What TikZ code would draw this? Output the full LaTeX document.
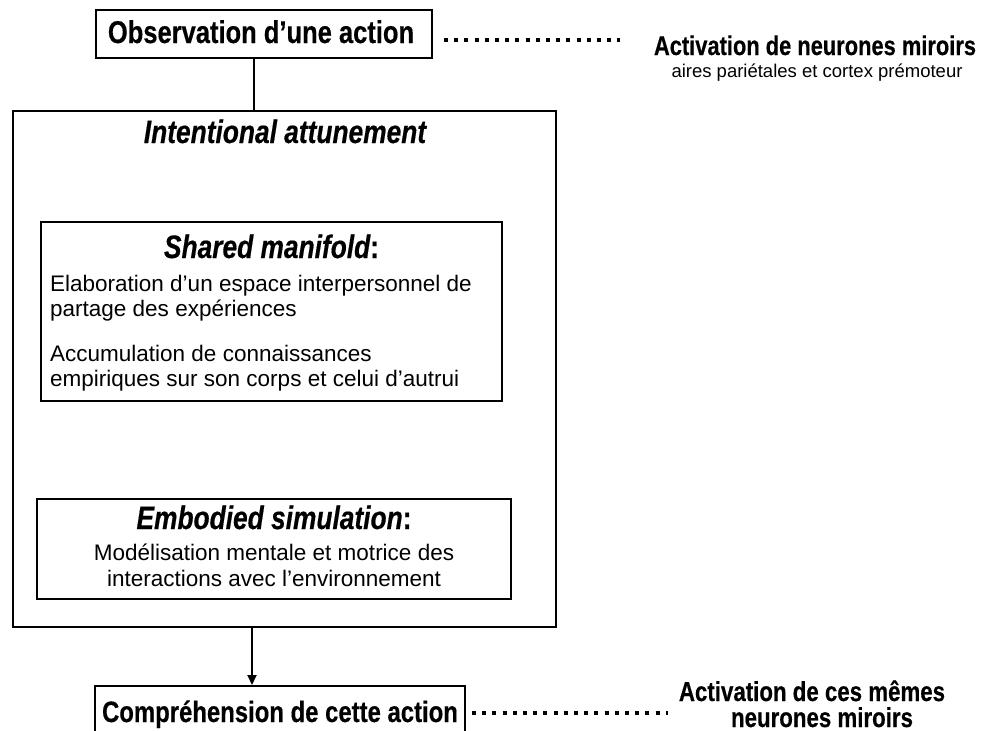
\documentclass[tikz,border=0pt]{standalone}
\usepackage{fontspec}
\setmainfont{Liberation Sans}
\newfontfamily\hb[FakeStretch=0.81, FakeBold=0.4]{Liberation Sans Bold}
\newfontfamily\hbi[FakeStretch=0.81, FakeBold=0.4]{Liberation Sans Bold Italic}
\usetikzlibrary{arrows.meta}
\tikzset{
  box/.style={draw, line width=2pt, inner sep=0pt},
  dots/.style={line width=4pt, dash pattern=on 4pt off 6.2pt},
  conn/.style={line width=2pt},
  head/.style={font=\hbi\fontsize{32.5}{34}\selectfont, inner sep=0pt},
  bodytxt/.style={font=\fontsize{22.5}{25}\selectfont, inner sep=0pt},
  bigtxt/.style={font=\hb\fontsize{31.5}{34}\selectfont, inner sep=0pt},
  sidetxt/.style={font=\hb\fontsize{27}{29}\selectfont, inner sep=0pt},
}
\begin{document}
\begin{tikzpicture}[x=1pt,y=-1pt]
\useasboundingbox (0,0) rectangle (994,731);
\clip (0,0) rectangle (994,731);
% top box
\node[box, minimum width=336pt, minimum height=48pt] (obs) at (264,34) {};
\node[bigtxt, anchor=base] (obst) at (261,43) {Observation d’une action};
% outer box
\node[box, minimum width=543pt, minimum height=516pt] (outer) at (284.5,369) {};
\node[head, anchor=base] (intent) at (285,143) {Intentional attunement};
% shared manifold
\node[box, minimum width=461pt, minimum height=179pt] (shared) at (271.5,311.5) {};
\node[head, anchor=base] (sht) at (271.5,258) {Shared manifold{\hb:}};
\node[bodytxt, anchor=base west] (sh1) at (50,291) {Elaboration d’un espace interpersonnel de};
\node[bodytxt, anchor=base west] (sh2) at (50,316) {partage des expériences};
\node[bodytxt, anchor=base west] (sh3) at (50,361) {Accumulation de connaissances};
\node[bodytxt, anchor=base west] (sh4) at (50,386) {empiriques sur son corps et celui d’autrui};
% embodied simulation
\node[box, minimum width=474pt, minimum height=100pt] (emb) at (274,549) {};
\node[head, anchor=base] (embt) at (274,529) {Embodied simulation{\hb:}};
\node[bodytxt, anchor=base] (emb1) at (274,560) {Modélisation mentale et motrice des};
\node[bodytxt, anchor=base] (emb2) at (274,586) {interactions avec l’environnement};
% bottom box
\node[box, minimum width=370pt, minimum height=60pt] (comp) at (280,716) {};
\node[bigtxt, font=\hb\fontsize{29.5}{32}\selectfont, anchor=base] (compt) at (280,722) {Compréhension de cette action};
% connectors
\coordinate (c1) at (254,0);
\coordinate (c2) at (252,0);
\draw[conn] (obs.south -| c1) -- (outer.north -| c1);
\draw[conn, -{Triangle[length=10pt,width=9pt]}] (outer.south -| c2) -- (comp.north -| c2);
% right labels
\node[sidetxt, anchor=base] (act1) at (815,55) {Activation de neurones miroirs};
\node[font=\fontsize{18.5}{21}\selectfont, inner sep=0pt, anchor=base] (act1b) at (817,77) {aires pariétales et cortex prémoteur};
\node[sidetxt, font=\hb\fontsize{27.5}{29}\selectfont, anchor=base] (act2) at (812,701) {Activation de ces mêmes};
\node[sidetxt, font=\hb\fontsize{27.5}{29}\selectfont, anchor=base] (act2b) at (822,727) {neurones miroirs};
% dotted leaders
\coordinate (d1s) at (444,40);
\coordinate (d1e) at (620,40);
\coordinate (d2s) at (472,713);
\coordinate (d2e) at (668,713);
\draw[dots] (d1s) -- (d1e);
\draw[dots] (d2s) -- (d2e);
\end{tikzpicture}
\end{document}
